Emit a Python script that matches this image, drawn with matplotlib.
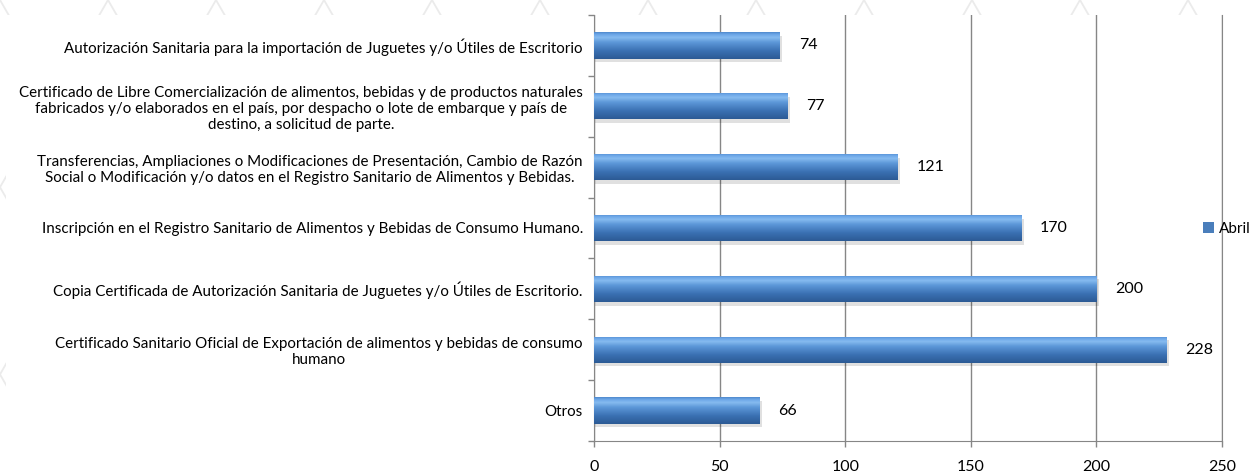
import numpy as np
import matplotlib
matplotlib.use("Agg")
import matplotlib.pyplot as plt
from matplotlib.patches import Rectangle
from matplotlib.colors import LinearSegmentedColormap

categories = [
    "Autorización Sanitaria para la importación de Juguetes y/o Útiles de Escritorio",
    "Certificado de Libre Comercialización de alimentos, bebidas y de productos naturales\nfabricados y/o elaborados en el país, por despacho o lote de embarque y país de\ndestino, a solicitud de parte.",
    "Transferencias, Ampliaciones o Modificaciones de Presentación, Cambio de Razón\nSocial o Modificación y/o datos en el Registro Sanitario de Alimentos y Bebidas.",
    "Inscripción en el Registro Sanitario de Alimentos y Bebidas de Consumo Humano.",
    "Copia Certificada de Autorización Sanitaria de Juguetes y/o Útiles de Escritorio.",
    "Certificado Sanitario Oficial de Exportación de alimentos y bebidas de consumo\nhumano",
    "Otros",
]
values = [74, 77, 121, 170, 200, 228, 66]
series_name = "Abril"
x_ticks = [0, 50, 100, 150, 200, 250]

plt.rcParams['font.family'] = ['Lato', 'DejaVu Sans']

fig = plt.figure(figsize=(12.56, 4.74), dpi=100)
fig.patch.set_facecolor("white")

# faint triangular background pattern (visible only around the chart area)
bg = fig.add_axes([0, 0, 1, 1], zorder=-10)
bg.set_xlim(0, 1256)
bg.set_ylim(474, 0)
bg.axis("off")
step = 108
for k in range(-8, 20):
    x0 = k * step
    bg.plot([x0, x0 + 300], [0, 520], color="#ebebeb", lw=1.3)
    bg.plot([x0, x0 - 300], [0, 520], color="#ebebeb", lw=1.3)
bg.add_patch(Rectangle((6, 15), 1256, 474, facecolor="white", edgecolor="none", zorder=5))

ax = fig.add_axes([594 / 1256, 1 - 441 / 474, (1222 - 594) / 1256, (441 - 15) / 474])
ax.set_facecolor("white")

n = len(categories)
ypos = np.arange(n)
bars = ax.barh(ypos, values, height=0.43, color="#4a7ebb", zorder=3,
               edgecolor="none", label=series_name)

grad = np.linspace(0, 1, 256).reshape(-1, 1)
cmap = LinearSegmentedColormap.from_list(
    "barg", [(0.0, "#2c5a94"), (0.3, "#3a70b2"), (0.62, "#5c97d8"), (0.8, "#86bbf0"),
             (0.92, "#6aa5e6"), (1.0, "#4f88cc")])
for b in bars:
    x, y = b.get_x(), b.get_y()
    w, hh = b.get_width(), b.get_height()
    ax.add_patch(Rectangle((x, y + 0.06), w + 1.0, hh, color="#000000",
                           alpha=0.12, zorder=2, lw=0))
    im = ax.imshow(grad, extent=[x, x + w, y + hh, y], aspect="auto",
                   cmap=cmap, zorder=4, origin="lower")
    im.set_clip_path(b)

for yi, v in zip(ypos, values):
    ax.annotate(str(v), xy=(v, yi), xytext=(13.5, 0), textcoords="offset points",
                va="center", ha="left", fontsize=11.5, color="#000000")

ax.set_xlim(0, 250)
ax.set_ylim(n - 0.5, -0.5)
ax.set_xticks(x_ticks)
ax.set_xticklabels([str(t) for t in x_ticks], fontsize=11.5)
ax.set_yticks(ypos)
ax.set_yticklabels(categories, fontsize=10.9)
for lab in ax.get_yticklabels():
    lab.set_multialignment("center")
ax.set_yticks(np.arange(-0.5, n, 1.0), minor=True)
ax.tick_params(axis="y", which="major", length=0, pad=8)
ax.tick_params(axis="y", which="minor", length=4, color="#868686", width=1)
ax.tick_params(axis="x", which="major", length=4, color="#868686", width=1, pad=10)

ax.grid(axis="x", color="#868686", lw=1, zorder=1)
ax.set_axisbelow(True)
ax.spines["top"].set_visible(False)
ax.spines["right"].set_color("#868686")
ax.spines["left"].set_color("#868686")
ax.spines["bottom"].set_color("#868686")

handle = Rectangle((0, 0), 1, 1, facecolor="#4a7ebb", edgecolor="none")
fig.legend([handle], [series_name], loc="center left",
           bbox_to_anchor=(1203 / 1256, 1 - 229 / 474), frameon=False,
           fontsize=11, handlelength=0.7, handleheight=0.7, handletextpad=0.35,
           borderpad=0, borderaxespad=0)

fig.savefig("out.png", dpi=100)
